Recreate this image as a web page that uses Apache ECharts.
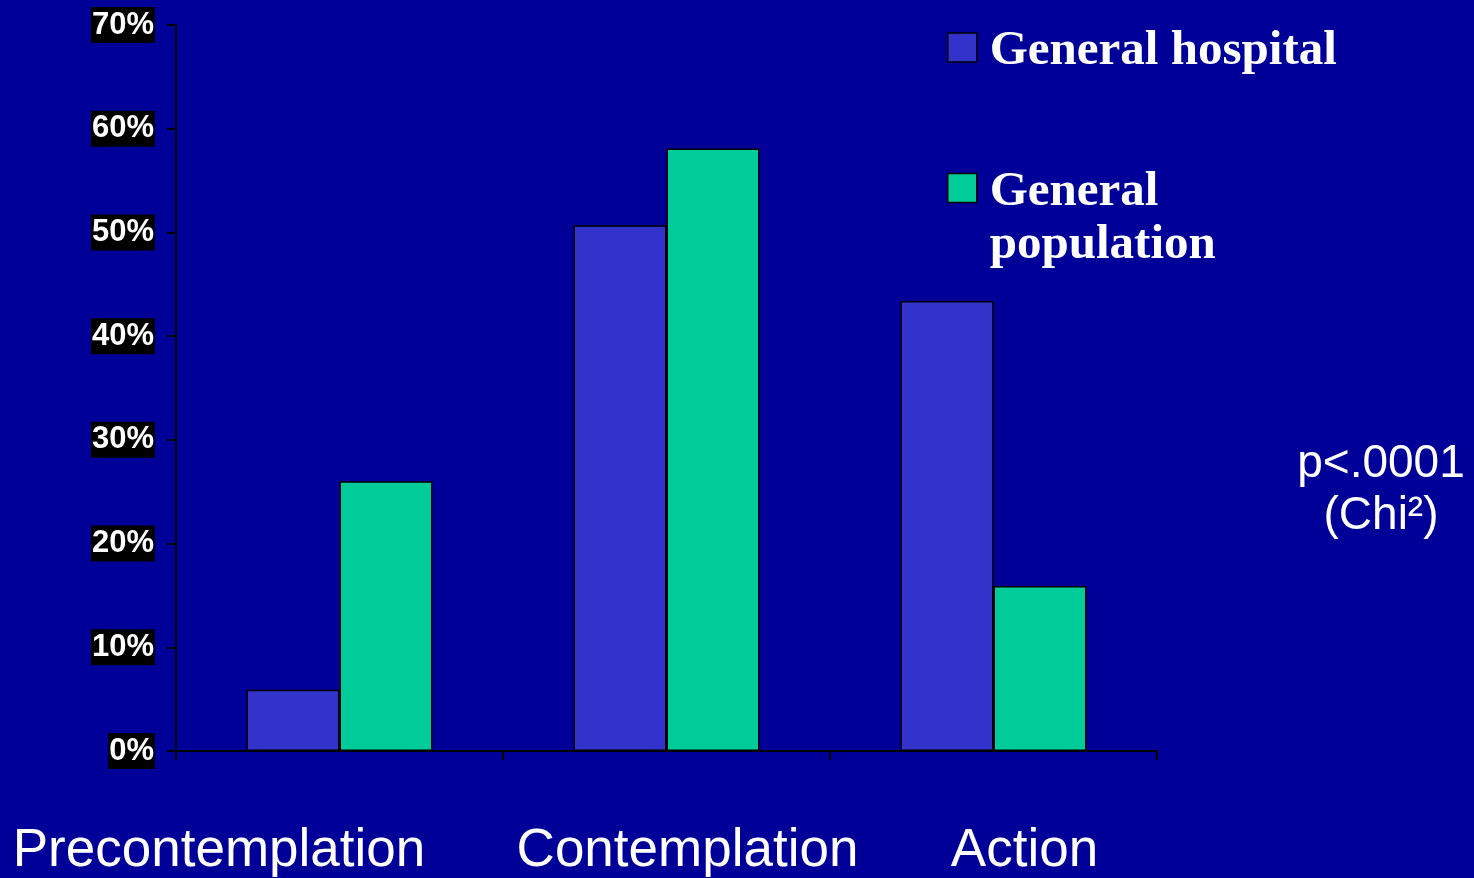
<!DOCTYPE html>
<html>
<head>
<meta charset="utf-8">
<script src="https://cdn.jsdelivr.net/npm/echarts@6/dist/echarts.min.js"></script>
<style>
  html, body { margin: 0; padding: 0; background: #000099; }
  #chart { width: 1474px; height: 878px; }
</style>
</head>
<body>
<div id="chart"></div>
<script>
// Stages of change, share of respondents (%)
const categories = ['Precontemplation', 'Contemplation', 'Action'];
const hospital = [5.9, 50.7, 43.4];
const population = [26.0, 58.1, 15.9];
const seriesNames = ['General hospital', 'General population'];
const yTicks = { min: 0, max: 70, interval: 10 };

// per-category horizontal placement of the stage labels
const labelRich = {
  c0: { padding: [0, 241, 0, 0] },
  c1: { padding: [0, 0, 0, 42] },
  c2: { padding: [0, 0, 0, 62] }
};

// legend text: a spacer line on top nudges the text block against the swatch
const legendRich = {
  s: { fontSize: 8, lineHeight: 8 },
  s2: { fontSize: 8, lineHeight: 61 },
  g: {
    color: '#fff', fontFamily: 'Liberation Serif, Times New Roman, serif',
    fontWeight: 'bold', fontSize: 49, lineHeight: 53
  }
};

const chart = echarts.init(document.getElementById('chart'));

const barStyle = (color) => ({ color: color, borderColor: '#000', borderWidth: 1.5 });

const legendBase = {
  left: 947, padding: 0,
  icon: 'rect', itemWidth: 29, itemHeight: 29,
  selectedMode: false,
  itemStyle: { borderColor: '#000', borderWidth: 1.5 },
  textStyle: { color: '#fff', padding: [0, 0, 0, 8], rich: legendRich }
};

chart.setOption({
  backgroundColor: '#000099',
  animation: false,
  grid: { left: 176, right: 317, top: 25, bottom: 126 },
  legend: [
    Object.assign({}, legendBase, {
      data: [seriesNames[0]], top: 17,
      formatter: (n) => '{s| }\n{g|' + n + '}'
    }),
    Object.assign({}, legendBase, {
      data: [seriesNames[1]], top: 131,
      formatter: (n) => '{s2| }\n{g|' + n.split(' ').join('}\n{g|') + '}'
    })
  ],
  xAxis: {
    type: 'category',
    data: categories,
    axisLine: { lineStyle: { color: '#000', width: 2 } },
    axisTick: { show: true, length: 9, lineStyle: { color: '#000', width: 2 } },
    axisLabel: {
      interval: 0,
      margin: 74,
      color: '#fff',
      fontFamily: 'Liberation Sans, Arial, sans-serif',
      fontSize: 53,
      lineHeight: 53,
      formatter: (v, i) => '{c' + i + '|' + v + '}',
      rich: labelRich
    },
    splitLine: { show: false }
  },
  yAxis: {
    type: 'value',
    min: yTicks.min, max: yTicks.max, interval: yTicks.interval,
    axisLine: { show: true, lineStyle: { color: '#000', width: 2 } },
    axisTick: { show: true, length: 9, lineStyle: { color: '#000', width: 2 } },
    splitLine: { show: false },
    axisLabel: {
      margin: 21,
      formatter: '{value}%',
      color: '#fff',
      fontFamily: 'Liberation Sans, Arial, sans-serif',
      fontWeight: 'bold',
      fontSize: 31,
      lineHeight: 34,
      backgroundColor: '#000',
      padding: [2, 1, 0, 1]
    }
  },
  series: [
    { name: seriesNames[0], type: 'bar', data: hospital, barWidth: 93, barGap: '0%', itemStyle: barStyle('#3333CC') },
    { name: seriesNames[1], type: 'bar', data: population, barWidth: 93, barGap: '0%', itemStyle: barStyle('#00CC99') }
  ],
  graphic: [
    {
      type: 'text',
      x: 1381, y: 438,
      style: {
        text: 'p<.0001\n(Chi²)',
        fill: '#fff',
        font: '46px Liberation Sans, Arial, sans-serif',
        lineHeight: 52,
        align: 'center',
        verticalAlign: 'top'
      }
    }
  ]
});
</script>
</body>
</html>
